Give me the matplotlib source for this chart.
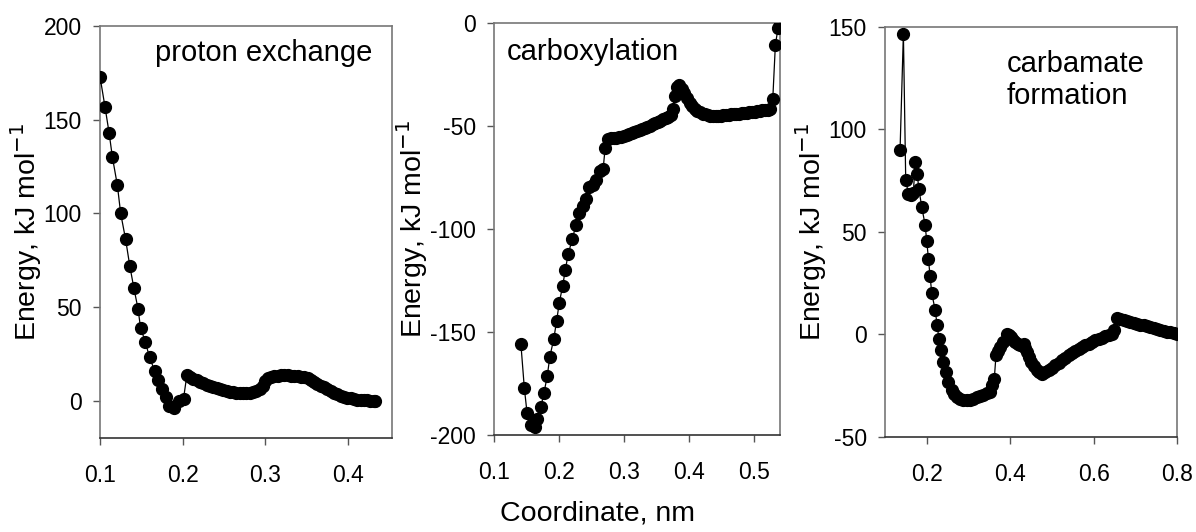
"""
Energy profiles along the reaction coordinate for three steps:
proton exchange, carboxylation and carbamate formation.
"""
import matplotlib
matplotlib.use('Agg')
import matplotlib.pyplot as plt

plt.rcParams['font.family'] = ['Liberation Sans', 'DejaVu Sans']
plt.rcParams['axes.unicode_minus'] = False

# ---- data ----
proton_x = [0.100, 0.106, 0.111, 0.115, 0.121, 0.125, 0.131, 0.136, 0.141, 0.146,
            0.149, 0.155, 0.160, 0.166, 0.170, 0.175, 0.180, 0.184, 0.190, 0.196,
            0.201,
            0.205, 0.209, 0.213, 0.217, 0.221, 0.225, 0.229, 0.233, 0.237, 0.241,
            0.245, 0.249, 0.253, 0.257, 0.261, 0.265, 0.269, 0.273, 0.277, 0.281,
            0.285, 0.289, 0.293, 0.297, 0.300, 0.303, 0.307, 0.311, 0.315, 0.319,
            0.323, 0.327, 0.331, 0.335, 0.339, 0.343, 0.347, 0.351, 0.355, 0.359,
            0.363, 0.367, 0.371, 0.375, 0.379, 0.383, 0.387, 0.391, 0.395, 0.399,
            0.403, 0.407, 0.411, 0.415, 0.419, 0.423, 0.427, 0.431, 0.433]
proton_y = [173, 157, 143, 130, 115, 100, 86, 72, 60, 49,
            39, 31, 23, 16, 11, 6, 2, -3, -4, 0,
            1,
            13.4, 12.5, 11.6, 10.8, 10.0, 9.2, 8.5, 7.8, 7.2, 6.6,
            6.0, 5.5, 5.0, 4.6, 4.3, 4.0, 3.9, 3.9, 4.0, 4.2,
            4.5, 5.0, 6.0, 8.0, 10.5, 11.8, 12.6, 13.0, 13.2, 13.4,
            13.4, 13.4, 13.3, 13.2, 13.0, 12.8, 12.4, 11.8, 11.0, 10.0,
            9.0, 8.0, 7.0, 6.0, 5.0, 4.1, 3.3, 2.6, 2.0, 1.5,
            1.1, 0.8, 0.5, 0.3, 0.2, 0.1, 0.0, 0.0, 0.0]

carbox_x = [0.1415, 0.1467, 0.151, 0.1565, 0.163, 0.1667, 0.172, 0.177, 0.182, 0.186,
            0.192, 0.1965, 0.2005, 0.2057, 0.2097, 0.2143, 0.2205, 0.226, 0.231, 0.237,
            0.2415, 0.2467, 0.253, 0.257, 0.263, 0.268, 0.271, 0.276,
            0.280, 0.284, 0.288, 0.292, 0.296, 0.300, 0.304, 0.308, 0.312, 0.316,
            0.320, 0.324, 0.328, 0.332, 0.336, 0.340, 0.344, 0.348, 0.352, 0.356,
            0.360, 0.364, 0.368, 0.372, 0.375, 0.378, 0.382, 0.385, 0.389, 0.393,
            0.397, 0.401, 0.405, 0.409, 0.413, 0.417, 0.421, 0.425, 0.429, 0.433,
            0.437, 0.441, 0.445, 0.449, 0.453, 0.457, 0.461, 0.465, 0.469, 0.473,
            0.477, 0.481, 0.485, 0.489, 0.493, 0.497, 0.501, 0.505, 0.509, 0.513,
            0.517, 0.521, 0.525, 0.529, 0.533, 0.537, 0.540]
carbox_y = [-156, -177, -189.5, -195, -196, -192.4, -186.6, -179.5, -171.4, -162,
            -153.4, -144.5, -135.8, -127.7, -120, -112, -105, -98.2, -92, -89,
            -85.6, -79.5, -78.6, -76, -71.7, -71, -60.8, -56.5,
            -56.0, -55.8, -55.6, -55.4, -55.1, -54.8, -54.5, -54.1, -53.6, -53.1,
            -52.5, -52.0, -51.5, -51.0, -50.4, -49.8, -49.2, -48.6, -48.0, -47.4,
            -46.8, -46.2, -45.5, -44.5, -41.5, -35.5, -31.0, -30.2, -32.0, -34.0,
            -36.5, -38.6, -40.3, -41.6, -42.6, -43.4, -44.0, -44.4, -44.7, -44.9,
            -45.0, -45.0, -45.0, -44.9, -44.8, -44.7, -44.6, -44.4, -44.3, -44.1,
            -44.0, -43.8, -43.7, -43.5, -43.3, -43.2, -43.0, -42.8, -42.6, -42.4,
            -42.2, -42.0, -41.8, -37.0, -10.7, -2.6, -0.5]

carbam_x = [0.136, 0.144, 0.1496, 0.156, 0.162, 0.168, 0.172, 0.177, 0.181, 0.188,
            0.196, 0.200, 0.204, 0.208, 0.212, 0.220, 0.225, 0.229, 0.234, 0.240,
            0.2455, 0.252, 0.260, 0.266, 0.272, 0.280, 0.288, 0.296, 0.304, 0.312,
            0.320, 0.328, 0.336, 0.344, 0.352, 0.357, 0.362, 0.366, 0.371, 0.376,
            0.384, 0.392, 0.397, 0.402, 0.407, 0.412, 0.418, 0.424, 0.432, 0.436,
            0.440, 0.445, 0.450, 0.457, 0.464, 0.470, 0.476, 0.484, 0.492, 0.500,
            0.508, 0.516, 0.524, 0.532, 0.540, 0.548, 0.556, 0.564, 0.572, 0.580,
            0.588, 0.596, 0.604, 0.612, 0.620, 0.628, 0.636, 0.644, 0.650, 0.656,
            0.664, 0.672, 0.680, 0.688, 0.696, 0.704, 0.712, 0.720, 0.728, 0.736,
            0.744, 0.752, 0.760, 0.768, 0.776, 0.784, 0.792, 0.800]
carbam_y = [89.9, 146.8, 75.2, 68.7, 67.9, 69.0, 84.1, 78.5, 71.2, 62.2,
            53.6, 45.6, 37.0, 28.4, 20.2, 12.1, 4.5, -2.0, -7.7, -13.4,
            -18.3, -23.2, -27.2, -29.0, -30.5, -31.5, -32.1, -32.1, -31.8, -31.3,
            -30.7, -30.0, -29.4, -28.7, -28.0, -24.8, -21.5, -10.2, -8.0, -6.1,
            -3.7, 0.4, -0.3, -1.2, -2.5, -3.7, -4.8, -5.3, -4.5, -6.5,
            -8.5, -11.0, -13.4, -15.5, -17.5, -18.5, -19.1, -18.5, -17.5, -16.3,
            -15.0, -13.8, -12.6, -11.4, -10.2, -9.2, -8.1, -7.1, -6.1, -5.3,
            -4.4, -3.6, -2.8, -2.2, -1.5, -0.9, -0.3, 0.4, 2.0, 7.8,
            7.4, 7.0, 6.5, 6.1, 5.7, 5.3, 4.8, 4.4, 3.9, 3.5,
            3.0, 2.6, 2.2, 1.8, 1.4, 1.0, 0.6, 0.3]

titles = ['proton exchange', 'carboxylation', 'carbamate\nformation']
xlims = [(0.1, 0.453), (0.1, 0.54), (0.1, 0.8)]
ylims = [(-20, 200), (-200, 0), (-50, 150)]
xticks = [[0.1, 0.2, 0.3, 0.4], [0.1, 0.2, 0.3, 0.4, 0.5], [0.2, 0.4, 0.6, 0.8]]
yticks = [[0, 50, 100, 150, 200], [-200, -150, -100, -50, 0], [-50, 0, 50, 100, 150]]
series = [(proton_x, proton_y), (carbox_x, carbox_y), (carbam_x, carbam_y)]

# axes boxes in figure fractions
boxes = [[0.0836, 0.1767, 0.2441, 0.7744],
         [0.4130, 0.1823, 0.2391, 0.7744],
         [0.7400, 0.1786, 0.2441, 0.7707]]
label_pos = [(0.932, 0.935, 'right'), (0.045, 0.930, 'left'), (0.418, 0.870, 'left')]

fig = plt.figure(figsize=(11.96, 5.32), dpi=100)
fig.patch.set_facecolor('white')

for i in range(3):
    ax = fig.add_axes(boxes[i])
    x, y = series[i]
    ax.plot(x, y, '-', color='black', lw=0.9, marker='o', ms=8.5,
            mfc='black', mec='black', zorder=3)
    ax.set_xlim(*xlims[i])
    ax.set_ylim(*ylims[i])
    ax.set_xticks(xticks[i])
    ax.set_yticks(yticks[i])
    ax.set_xticklabels([f'{t:g}' for t in xticks[i]])
    ax.tick_params(direction='out', length=5, width=1, colors='#555555',
                   labelcolor='black', labelsize=16.5, pad=8)
    ax.tick_params(axis='x', pad=14)
    for s in ax.spines.values():
        s.set_color('#777777')
        s.set_linewidth(1.2)
    ax.spines['bottom'].set_color('#333333')
    ax.set_ylabel('Energy, kJ mol$^{-1}$', fontsize=20.5, labelpad=0)
    lx, ly, ha = label_pos[i]
    ax.text(lx, ly, titles[i], transform=ax.transAxes, ha=ha, va='center',
            fontsize=21, linespacing=1.2)

fig.text(0.5, 0.035, 'Coordinate, nm', ha='center', va='center', fontsize=20.5)

plt.savefig('out.png', dpi=100, facecolor='white')
plt.close()
